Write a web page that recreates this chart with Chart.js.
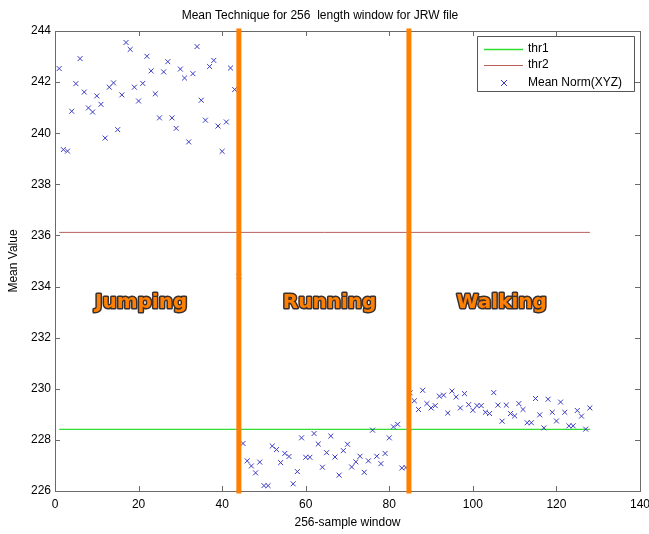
<!DOCTYPE html>
<html lang="en">
<head>
  <meta charset="UTF-8" />
  <title>Mean Technique for 256 length window</title>
  <script src="https://cdn.jsdelivr.net/npm/chart.js"></script>
  <style>
    html, body { margin: 0; padding: 0; background: #fff; }
    #wrap { width: 649px; height: 534px; }
  </style>
</head>
<body>
  <div id="wrap"><canvas id="meanChart" width="649" height="534"></canvas></div>

  <script>
    // Mean Norm(XYZ) per 256-sample window (window 1..128)
    const meanNorm = [
      242.53, 239.36, 239.30, 240.86, 241.94, 242.92, 241.61, 240.99, 240.83, 241.46,
      241.13, 239.81, 241.80, 241.97, 240.14, 241.50, 243.55, 243.28, 241.80, 241.26,
      241.95, 243.01, 242.44, 241.54, 240.60, 242.40, 242.80, 240.60, 240.19, 242.51,
      242.16, 239.66, 242.33, 243.39, 241.29, 240.51, 242.61, 242.85, 240.28, 239.29,
      240.44, 242.55, 241.71, 234.40, 227.86, 227.18, 226.98, 226.71, 227.13, 226.21,
      226.21, 227.76, 227.62, 227.11, 227.47, 227.35, 226.28, 226.76, 228.08, 227.32,
      227.32, 228.25, 227.84, 226.93, 227.50, 228.15, 227.33, 226.62, 227.58, 227.83,
      226.94, 227.14, 227.36, 226.73, 227.18, 228.38, 227.36, 227.07, 227.47, 228.08,
      228.51, 228.61, 226.90, 226.92, 229.84, 229.53, 229.19, 229.94, 229.42, 229.25,
      229.34, 229.71, 229.75, 229.05, 229.91, 229.68, 229.25, 229.81, 229.38, 229.16,
      229.34, 229.34, 229.08, 229.03, 229.85, 229.36, 228.73, 229.36, 229.03, 228.94,
      229.42, 229.19, 228.67, 228.67, 229.62, 228.98, 228.47, 229.59, 229.08, 228.74,
      229.48, 229.08, 228.55, 228.55, 229.15, 228.93, 228.42, 229.25
    ];

    // threshold lines, drawn from first to last window
    const thrX = [1, 128];
    const thr1 = [228.41, 228.41];
    const thr2 = [236.12, 236.12];

    // activity boundaries (orange bars)
    const boundaryX = [44, 84.7];

    // activity labels
    const activityNames = ["Jumping", "Running", "Walking"];
    const activityX = [20.6, 65.7, 106.9];
    const activityY = [233.35, 233.35, 233.35];

    const xTicks = [0, 20, 40, 60, 80, 100, 120, 140];
    const yTicks = [226, 228, 230, 232, 234, 236, 238, 240, 242, 244];

    const AXIS_COLOR = "#6a6a6a";
    const ORANGE = "#ff7f00";

    function pts(xs, ys) {
      return xs.map((x, i) => ({ x: x, y: ys[i] }));
    }

    const datasets = [
      {
        label: "thr1",
        data: pts(thrX, thr1),
        showLine: true,
        borderColor: "#30dd30",
        borderWidth: 1.3,
        pointRadius: 0,
        order: 3
      },
      {
        label: "thr2",
        data: pts(thrX, thr2),
        showLine: true,
        borderColor: "#b8605a",
        borderWidth: 1,
        pointRadius: 0,
        order: 3
      },
      {
        label: "Mean Norm(XYZ)",
        data: meanNorm.map((v, i) => ({ x: i + 1, y: v })),
        showLine: false,
        pointStyle: "crossRot",
        pointRadius: 3.5,
        borderColor: "#3a3ac4",
        backgroundColor: "#3a3ac4",
        borderWidth: 1,
        order: 2
      }
    ];

    boundaryX.forEach((bx) => {
      datasets.push({
        label: "",
        legendSkip: true,
        data: [{ x: bx, y: 226 }, { x: bx, y: 244 }],
        showLine: true,
        borderColor: ORANGE,
        borderWidth: 5,
        borderCapStyle: "square",
        pointRadius: 0,
        clip: false,
        order: 1
      });
    });

    // box + inward tick marks like the original figure
    const framePlugin = {
      id: "frame",
      beforeDatasetsDraw(chart) {
        const ctx = chart.ctx;
        const a = chart.chartArea;
        const xs = chart.scales.x, ys = chart.scales.y;
        ctx.save();
        ctx.strokeStyle = AXIS_COLOR;
        ctx.lineWidth = 1;
        ctx.beginPath();
        xTicks.forEach((t) => {
          const px = Math.round(xs.getPixelForValue(t)) + 0.5;
          ctx.moveTo(px, a.bottom); ctx.lineTo(px, a.bottom - 5);
          ctx.moveTo(px, a.top); ctx.lineTo(px, a.top + 5);
        });
        yTicks.forEach((t) => {
          const py = Math.round(ys.getPixelForValue(t)) + 0.5;
          ctx.moveTo(a.left, py); ctx.lineTo(a.left + 5, py);
          ctx.moveTo(a.right, py); ctx.lineTo(a.right - 5, py);
        });
        ctx.stroke();
        ctx.strokeRect(Math.round(a.left) + 0.5, Math.round(a.top) + 0.5,
          Math.round(a.right - a.left), Math.round(a.bottom - a.top));
        ctx.restore();
      },
      afterDatasetsDraw(chart) {
        const ctx = chart.ctx;
        const xs = chart.scales.x, ys = chart.scales.y;
        ctx.save();
        // activity labels
        ctx.font = "bold 20px 'DejaVu Sans'";
        ctx.textAlign = "center";
        ctx.textBaseline = "middle";
        ctx.lineJoin = "round";
        activityNames.forEach((name, i) => {
          const px = xs.getPixelForValue(activityX[i]);
          const py = ys.getPixelForValue(activityY[i]);
          ctx.strokeStyle = "#3a3030";
          ctx.lineWidth = 3;
          ctx.strokeText(name, px, py);
          ctx.fillStyle = ORANGE;
          ctx.fillText(name, px, py);
        });

        // legend box
        const lx = 477.5, ly = 36.5, lw = 157, lh = 55;
        ctx.fillStyle = "#fff";
        ctx.fillRect(lx, ly, lw, lh);
        ctx.strokeStyle = "#555";
        ctx.lineWidth = 1;
        ctx.strokeRect(lx, ly, lw, lh);
        ctx.font = "12px 'Liberation Sans', Arial, sans-serif";
        ctx.textAlign = "left";
        ctx.textBaseline = "middle";
        const rows = [48.5, 64.5, 83];
        chart.data.datasets.filter((d) => !d.legendSkip).forEach((d, i) => {
          const y = rows[i];
          ctx.strokeStyle = d.borderColor;
          ctx.lineWidth = d.borderWidth;
          ctx.beginPath();
          if (d.showLine) {
            ctx.moveTo(484, Math.round(y) + 0.5);
            ctx.lineTo(523, Math.round(y) + 0.5);
          } else {
            ctx.moveTo(501, y - 3); ctx.lineTo(507, y + 3);
            ctx.moveTo(507, y - 3); ctx.lineTo(501, y + 3);
          }
          ctx.stroke();
          ctx.fillStyle = "#000";
          ctx.fillText(d.label, 528, y);
        });
        ctx.restore();
      }
    };

    new Chart(document.getElementById("meanChart").getContext("2d"), {
      type: "scatter",
      data: { datasets: datasets },
      options: {
        responsive: false,
        animation: false,
        events: [],
        layout: { padding: { left: 0, right: 9, top: 0, bottom: 0 } },
        plugins: {
          legend: { display: false },
          tooltip: { enabled: false },
          title: {
            display: true,
            text: "Mean Technique for 256  length window for JRW file",
            color: "#000",
            font: { family: "'Liberation Sans', Arial, sans-serif", size: 12, weight: "normal", lineHeight: 1.2 },
            padding: { top: 8, bottom: 8.6 }
          }
        },
        scales: {
          x: {
            type: "linear",
            min: 0,
            max: 140,
            afterBuildTicks: (s) => { s.ticks = xTicks.map((v) => ({ value: v })); },
            afterFit: (s) => { s.height = 43; s.paddingLeft = 0; s.paddingRight = 0; },
            grid: { display: false, drawTicks: false },
            border: { display: false },
            ticks: {
              color: "#000",
              padding: 6,
              maxRotation: 0,
              font: { family: "'Liberation Sans', Arial, sans-serif", size: 12 }
            },
            title: {
              display: true,
              text: "256-sample window",
              color: "#000",
              font: { family: "'Liberation Sans', Arial, sans-serif", size: 12 },
              padding: { top: 4, bottom: 4 }
            }
          },
          y: {
            type: "linear",
            min: 226,
            max: 244,
            afterBuildTicks: (s) => { s.ticks = yTicks.map((v) => ({ value: v })); },
            afterFit: (s) => { s.width = 55; s.paddingTop = 0; s.paddingBottom = 0; },
            grid: { display: false, drawTicks: false },
            border: { display: false },
            ticks: {
              color: "#000",
              padding: 4,
              font: { family: "'Liberation Sans', Arial, sans-serif", size: 12 }
            },
            title: {
              display: true,
              text: "Mean Value",
              color: "#000",
              font: { family: "'Liberation Sans', Arial, sans-serif", size: 12 },
              padding: { top: 6, bottom: 0 }
            }
          }
        }
      },
      plugins: [framePlugin]
    });
  </script>
</body>
</html>
